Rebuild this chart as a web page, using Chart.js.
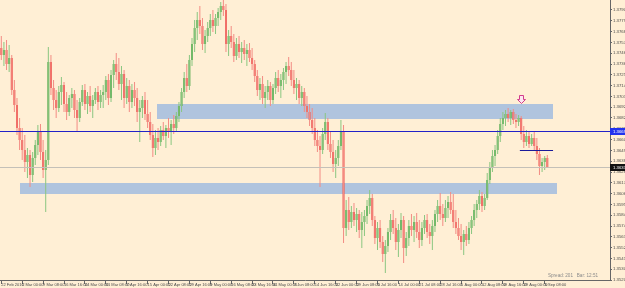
<!DOCTYPE html>
<html><head><meta charset="utf-8">
<script src="https://cdn.jsdelivr.net/npm/chart.js@4"></script>
<style>html,body{margin:0;padding:0;background:#FFEFD5;overflow:hidden}#wrap{width:625px;height:288px;position:relative}</style>
</head><body><div id="wrap"><canvas id="c" width="625" height="288"></canvas></div>
<script>
// H4 chart, each candle here summarises 4 bars; date tick every 8 candles
const dateLabels = ["22 Feb 2016","2 Mar 00:00","9 Mar 08:00","16 Mar 16:00","24 Mar 00:00","31 Mar 08:00","7 Apr 16:00","15 Apr 00:00","22 Apr 08:00","29 Apr 16:00","9 May 00:00","16 May 08:00","23 May 16:00","31 May 00:00","7 Jun 08:00","14 Jun 16:00","22 Jun 00:00","29 Jun 08:00","6 Jul 16:00","14 Jul 00:00","21 Jul 08:00","28 Jul 16:00","5 Aug 00:00","12 Aug 08:00","19 Aug 16:00","29 Aug 00:00","5 Sep 08:00"];
const open = [1.3752,1.3745,1.3750,1.3736,1.3742,1.3710,1.3695,1.3672,1.3660,1.3650,
1.3638,1.3645,1.3625,1.3642,1.3655,1.3668,1.3648,1.3630,1.3640,1.3738,
1.3712,1.3700,1.3692,1.3708,1.3715,1.3696,1.3688,1.3702,1.3706,1.3690,
1.3682,1.3698,1.3710,1.3696,1.3704,1.3694,1.3700,1.3708,1.3698,1.3705,
1.3708,1.3720,1.3702,1.3725,1.3736,1.3728,1.3716,1.3726,1.3702,1.3714,
1.3698,1.3710,1.3702,1.3688,1.3692,1.3700,1.3686,1.3678,1.3665,1.3652,
1.3662,1.3658,1.3670,1.3664,1.3672,1.3668,1.3676,1.3672,1.3684,1.3694,
1.3708,1.3722,1.3714,1.3740,1.3756,1.3772,1.3780,1.3774,1.3756,1.3764,
1.3772,1.3780,1.3774,1.3782,1.3788,1.3794,1.3790,1.3756,1.3764,1.3758,
1.3744,1.3756,1.3748,1.3752,1.3746,1.3750,1.3742,1.3736,1.3724,1.3710,
1.3716,1.3702,1.3708,1.3714,1.3700,1.3712,1.3722,1.3714,1.3720,1.3728,
1.3734,1.3730,1.3720,1.3712,1.3716,1.3702,1.3708,1.3694,1.3688,1.3680,
1.3672,1.3660,1.3654,1.3650,1.3666,1.3678,1.3656,1.3648,1.3636,1.3642,
1.3654,1.3668,1.3572,1.3590,1.3578,1.3588,1.3580,1.3586,1.3570,1.3578,
1.3584,1.3594,1.3602,1.3580,1.3562,1.3572,1.3558,1.3546,1.3554,1.3568,
1.3580,1.3572,1.3558,1.3570,1.3580,1.3552,1.3562,1.3574,1.3570,1.3578,
1.3568,1.3560,1.3572,1.3580,1.3568,1.3564,1.3574,1.3586,1.3594,1.3586,
1.3582,1.3592,1.3598,1.3590,1.3578,1.3572,1.3564,1.3558,1.3566,1.3560,
1.3572,1.3580,1.3590,1.3596,1.3604,1.3594,1.3602,1.3620,1.3632,1.3644,
1.3650,1.3664,1.3676,1.3682,1.3686,1.3682,1.3688,1.3680,1.3678,1.3682,
1.3666,1.3658,1.3664,1.3656,1.3662,1.3654,1.3646,1.3634,1.3638,1.3642];
const high = [1.3764,1.3758,1.3760,1.3755,1.3745,1.3720,1.3702,1.3682,1.3672,1.3665,
1.3652,1.3650,1.3648,1.3660,1.3675,1.3676,1.3660,1.3650,1.3753,1.3745,
1.3720,1.3710,1.3714,1.3723,1.3718,1.3708,1.3705,1.3712,1.3710,1.3700,
1.3702,1.3715,1.3716,1.3708,1.3714,1.3705,1.3712,1.3714,1.3710,1.3715,
1.3724,1.3726,1.3730,1.3740,1.3747,1.3742,1.3734,1.3730,1.3722,1.3720,
1.3716,1.3718,1.3712,1.3700,1.3704,1.3708,1.3700,1.3688,1.3676,1.3670,
1.3672,1.3674,1.3678,1.3675,1.3682,1.3680,1.3685,1.3688,1.3698,1.3712,
1.3728,1.3736,1.3745,1.3762,1.3780,1.3788,1.3794,1.3782,1.3770,1.3778,
1.3786,1.3790,1.3786,1.3792,1.3798,1.3800,1.3796,1.3770,1.3774,1.3766,
1.3762,1.3764,1.3758,1.3760,1.3756,1.3757,1.3752,1.3740,1.3730,1.3722,
1.3724,1.3714,1.3720,1.3718,1.3716,1.3728,1.3730,1.3726,1.3732,1.3738,
1.3743,1.3738,1.3730,1.3722,1.3720,1.3714,1.3712,1.3704,1.3696,1.3692,
1.3682,1.3670,1.3664,1.3672,1.3687,1.3682,1.3668,1.3660,1.3650,1.3660,
1.3680,1.3675,1.3600,1.3603,1.3594,1.3597,1.3592,1.3590,1.3588,1.3590,
1.3600,1.3610,1.3606,1.3584,1.3578,1.3580,1.3564,1.3560,1.3572,1.3586,
1.3590,1.3582,1.3576,1.3587,1.3584,1.3568,1.3580,1.3586,1.3584,1.3587,
1.3580,1.3578,1.3585,1.3586,1.3576,1.3580,1.3590,1.3600,1.3607,1.3596,
1.3600,1.3604,1.3608,1.3606,1.3590,1.3582,1.3576,1.3570,1.3574,1.3578,
1.3584,1.3596,1.3600,1.3610,1.3608,1.3606,1.3627,1.3638,1.3650,1.3655,
1.3670,1.3682,1.3688,1.3690,1.3692,1.3690,1.3691,1.3686,1.3685,1.3684,
1.3674,1.3670,1.3668,1.3666,1.3668,1.3662,1.3652,1.3642,1.3644,1.3645];
const low = [1.3740,1.3734,1.3730,1.3728,1.3705,1.3688,1.3665,1.3650,1.3640,1.3628,
1.3622,1.3613,1.3618,1.3635,1.3645,1.3640,1.3622,1.3588,1.3635,1.3705,
1.3690,1.3682,1.3688,1.3695,1.3688,1.3680,1.3684,1.3692,1.3682,1.3668,
1.3678,1.3694,1.3690,1.3686,1.3688,1.3682,1.3696,1.3690,1.3692,1.3692,
1.3700,1.3695,1.3698,1.3712,1.3720,1.3710,1.3700,1.3692,1.3696,1.3688,
1.3692,1.3694,1.3678,1.3658,1.3682,1.3680,1.3672,1.3660,1.3643,1.3645,
1.3650,1.3654,1.3660,1.3652,1.3662,1.3655,1.3666,1.3668,1.3678,1.3688,
1.3702,1.3708,1.3710,1.3734,1.3748,1.3760,1.3766,1.3750,1.3747,1.3758,
1.3764,1.3768,1.3766,1.3774,1.3780,1.3784,1.3748,1.3744,1.3752,1.3738,
1.3740,1.3742,1.3737,1.3740,1.3734,1.3738,1.3730,1.3718,1.3704,1.3700,
1.3696,1.3692,1.3700,1.3694,1.3696,1.3706,1.3708,1.3702,1.3710,1.3716,
1.3724,1.3714,1.3706,1.3700,1.3696,1.3694,1.3688,1.3682,1.3674,1.3666,
1.3654,1.3648,1.3613,1.3646,1.3660,1.3650,1.3642,1.3628,1.3622,1.3634,
1.3650,1.3557,1.3564,1.3570,1.3572,1.3574,1.3568,1.3562,1.3552,1.3564,
1.3576,1.3586,1.3574,1.3556,1.3550,1.3552,1.3538,1.3527,1.3548,1.3560,
1.3566,1.3550,1.3543,1.3562,1.3537,1.3544,1.3554,1.3564,1.3558,1.3562,
1.3552,1.3554,1.3566,1.3562,1.3556,1.3550,1.3568,1.3578,1.3580,1.3574,
1.3578,1.3582,1.3586,1.3572,1.3566,1.3560,1.3550,1.3545,1.3554,1.3556,
1.3566,1.3574,1.3582,1.3590,1.3588,1.3590,1.3600,1.3616,1.3628,1.3634,
1.3646,1.3658,1.3670,1.3674,1.3678,1.3675,1.3676,1.3672,1.3674,1.3660,
1.3652,1.3654,1.3652,1.3654,1.3650,1.3640,1.3625,1.3628,1.3630,1.3632];
const close = [1.3745,1.3750,1.3736,1.3742,1.3710,1.3695,1.3672,1.3660,1.3650,1.3638,
1.3645,1.3625,1.3642,1.3655,1.3668,1.3648,1.3630,1.3640,1.3738,1.3712,
1.3700,1.3692,1.3708,1.3715,1.3696,1.3688,1.3702,1.3706,1.3690,1.3682,
1.3698,1.3710,1.3696,1.3704,1.3694,1.3700,1.3708,1.3698,1.3705,1.3708,
1.3720,1.3702,1.3725,1.3736,1.3728,1.3716,1.3726,1.3702,1.3714,1.3698,
1.3710,1.3702,1.3688,1.3692,1.3700,1.3686,1.3678,1.3665,1.3652,1.3662,
1.3658,1.3670,1.3664,1.3672,1.3668,1.3676,1.3672,1.3684,1.3694,1.3708,
1.3722,1.3714,1.3740,1.3756,1.3772,1.3780,1.3774,1.3756,1.3764,1.3772,
1.3780,1.3774,1.3782,1.3788,1.3794,1.3790,1.3756,1.3764,1.3758,1.3744,
1.3756,1.3748,1.3752,1.3746,1.3750,1.3742,1.3736,1.3724,1.3710,1.3716,
1.3702,1.3708,1.3714,1.3700,1.3712,1.3722,1.3714,1.3720,1.3728,1.3734,
1.3730,1.3720,1.3712,1.3716,1.3702,1.3708,1.3694,1.3688,1.3680,1.3672,
1.3660,1.3654,1.3650,1.3666,1.3678,1.3656,1.3648,1.3636,1.3642,1.3654,
1.3668,1.3572,1.3590,1.3578,1.3588,1.3580,1.3586,1.3570,1.3578,1.3584,
1.3594,1.3602,1.3580,1.3562,1.3572,1.3558,1.3546,1.3554,1.3568,1.3580,
1.3572,1.3558,1.3570,1.3580,1.3552,1.3562,1.3574,1.3570,1.3578,1.3568,
1.3560,1.3572,1.3580,1.3568,1.3564,1.3574,1.3586,1.3594,1.3586,1.3582,
1.3592,1.3598,1.3590,1.3578,1.3572,1.3564,1.3558,1.3566,1.3560,1.3572,
1.3580,1.3590,1.3596,1.3604,1.3594,1.3602,1.3620,1.3632,1.3644,1.3650,
1.3664,1.3676,1.3682,1.3686,1.3682,1.3688,1.3680,1.3678,1.3682,1.3666,
1.3658,1.3664,1.3656,1.3662,1.3654,1.3646,1.3634,1.3638,1.3642,1.3633];
const priceTicks = [1.37900,1.37792,1.37684,1.37576,1.37468,1.37360,1.37252,1.37144,1.37036,1.36928,1.36820,1.36712,1.36604,1.36496,1.36388,1.36280,1.36172,1.36064,1.35956,1.35848,1.35740,1.35632,1.35524,1.35416,1.35308,1.35200];
// supply / demand zones (candle index range, price range)
const zoneStart = [59.6, 7.2];
const zoneEnd = [211.2, 212.7];
const zoneTop = [1.3696, 1.3617];
const zoneBottom = [1.3681, 1.3606];
// horizontal objects
const levelPrice = 1.3669;
const bidPrice = 1.3633;
const shortLinePrice = 1.3650, shortLineFrom = 198.5, shortLineTo = 211.2;
const arrowIndex = 199, arrowPrice = 1.3705;
const infoText = "Spread: 201   Bar: 12:51";

const FONT = 'Liberation Sans, Arial, sans-serif';
const isUp = i => close[i] >= open[i];

const overlay = {
  id: 'mt4Overlay',
  beforeDatasetsDraw(chart) {
    const {ctx, chartArea: a, scales: {x, y}} = chart;
    ctx.save();
    ctx.beginPath(); ctx.rect(a.left, a.top, a.right - a.left, a.bottom - a.top); ctx.clip();
    ctx.fillStyle = '#b0c4de';
    zoneStart.forEach((s, i) => {
      const x0 = x.getPixelForValue(s), x1 = x.getPixelForValue(zoneEnd[i]);
      const y0 = y.getPixelForValue(zoneTop[i]), y1 = y.getPixelForValue(zoneBottom[i]);
      ctx.fillRect(Math.round(x0), Math.round(y0), Math.round(x1 - x0), Math.round(y1 - y0));
    });
    ctx.restore();
  },
  afterDatasetsDraw(chart) {
    const {ctx, chartArea: a, scales: {x, y}} = chart;
    ctx.save();
    const hline = (p, x0, x1, col) => {
      const py = Math.round(y.getPixelForValue(p)) + 0.5;
      ctx.strokeStyle = col; ctx.lineWidth = 1;
      ctx.beginPath(); ctx.moveTo(x0, py); ctx.lineTo(x1, py); ctx.stroke();
    };
    hline(bidPrice, a.left, a.right, '#c4c0b8');
    hline(levelPrice, a.left, a.right, '#2222c8');
    hline(shortLinePrice, x.getPixelForValue(shortLineFrom), x.getPixelForValue(shortLineTo), '#1a1a9a');
    // down arrow
    const ax = Math.round(x.getPixelForValue(arrowIndex)) + 0.5;
    const ay = Math.round(y.getPixelForValue(arrowPrice)) + 0.5;
    ctx.fillStyle = '#fde6f0'; ctx.strokeStyle = '#d23c8c'; ctx.lineWidth = 1;
    ctx.beginPath();
    ctx.moveTo(ax - 2, ay); ctx.lineTo(ax + 2, ay); ctx.lineTo(ax + 2, ay + 4);
    ctx.lineTo(ax + 4, ay + 4); ctx.lineTo(ax, ay + 8); ctx.lineTo(ax - 4, ay + 4);
    ctx.lineTo(ax - 2, ay + 4); ctx.closePath();
    ctx.fill(); ctx.stroke();
    ctx.restore();
  },
  afterDraw(chart) {
    const {ctx, chartArea: a, scales: {y}} = chart;
    ctx.save();
    const box = (p, bg) => {
      const py = Math.round(y.getPixelForValue(p));
      ctx.fillStyle = bg; ctx.fillRect(a.right, py - 3, 625 - a.right, 7);
      ctx.fillStyle = '#ffffff'; ctx.font = '4.3px ' + FONT;
      ctx.textBaseline = 'middle'; ctx.textAlign = 'left';
      ctx.fillText(p.toFixed(5), a.right + 3, py + 0.5);
    };
    box(levelPrice, '#2233ee');
    box(bidPrice, '#111111');
    ctx.fillStyle = '#8c8c8c'; ctx.font = '4.6px ' + FONT;
    ctx.textAlign = 'right'; ctx.textBaseline = 'middle';
    ctx.fillText(infoText, 598, 276);
    ctx.restore();
  }
};

const wickData = high.map((h, i) => ({x: i, y: [low[i], h]}));
const bodyData = open.map((o, i) => ({x: i, y: [o, close[i]]}));

new Chart(document.getElementById('c'), {
  type: 'bar',
  data: {
    datasets: [
      {data: wickData, barThickness: 1, grouped: false, inflateAmount: 0, borderWidth: 0,
       backgroundColor: c => isUp(c.dataIndex) ? '#8ac680' : '#f38c84'},
      {data: bodyData, barThickness: 2, grouped: false, inflateAmount: 0, borderWidth: 0,
       backgroundColor: c => isUp(c.dataIndex) ? '#5dac52' : '#ef5650'}
    ]
  },
  options: {
    responsive: false, animation: false, events: [],
    layout: {padding: 0},
    plugins: {legend: {display: false}, tooltip: {enabled: false}},
    scales: {
      x: {
        type: 'linear', min: -0.5, max: 233, offset: false,
        grid: {offset: false, drawOnChartArea: false, drawTicks: true, tickLength: 4, color: '#666'},
        border: {display: true, color: '#666'},
        afterBuildTicks: s => { s.ticks = dateLabels.map((_, k) => ({value: k * 8})); },
        afterFit: s => { s.height = 8; s.paddingLeft = 0; s.paddingRight = 0; },
        ticks: {callback: (v, idx) => dateLabels[idx], align: 'start', padding: -2, autoSkip: false,
                maxRotation: 0, minRotation: 0, color: '#4a4a4a', font: {size: 4, family: FONT}}
      },
      y: {
        position: 'right', min: 1.3520, max: 1.3800,
        grid: {drawOnChartArea: false, drawTicks: true, tickLength: 2, color: '#666'},
        border: {display: true, color: '#666'},
        afterBuildTicks: s => { s.ticks = priceTicks.map(v => ({value: v})); },
        afterFit: s => { s.width = 15; s.paddingTop = 0; s.paddingBottom = 0; },
        ticks: {callback: v => v.toFixed(5), padding: 1, color: '#4a4a4a', font: {size: 4.3, family: FONT}}
      }
    }
  },
  plugins: [overlay]
});
</script></body></html>
